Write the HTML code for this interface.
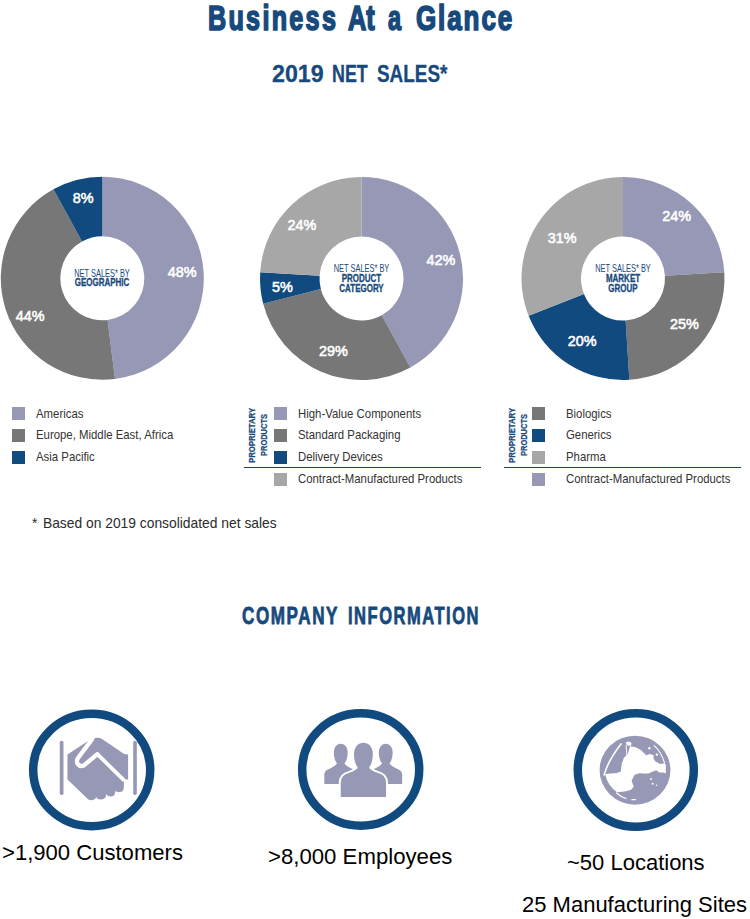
<!DOCTYPE html>
<html><head><meta charset="utf-8">
<style>
html,body{margin:0;padding:0;background:#fff;}
body{width:750px;height:919px;position:relative;overflow:hidden;font-family:"Liberation Sans",sans-serif;}
.a{position:absolute;white-space:nowrap;}
.h{color:#17497c;font-weight:bold;transform-origin:0 0;}
.lg{font-size:12.8px;color:#333;transform-origin:0 0;transform:scaleX(0.889);}
.sq{position:absolute;width:13px;height:13px;}
.big{font-size:22.8px;color:#000;transform-origin:0 0;transform:scaleX(0.965);}
</style></head><body>
<div class="a" style="left:207.51px;top:-0.40px;font-size:35.2px;line-height:35.2px;font-weight:bold;color:#17497c;-webkit-text-stroke:1.7px #17497c;letter-spacing:3.2px;transform-origin:0 0;transform:scaleX(0.7150);">Business</div><div class="a" style="left:347.81px;top:-0.40px;font-size:35.2px;line-height:35.2px;font-weight:bold;color:#17497c;-webkit-text-stroke:1.7px #17497c;letter-spacing:0px;transform-origin:0 0;transform:scaleX(0.7210);">At</div><div class="a" style="left:387.77px;top:-0.40px;font-size:35.2px;line-height:35.2px;font-weight:bold;color:#17497c;-webkit-text-stroke:1.7px #17497c;letter-spacing:0px;transform-origin:0 0;transform:scaleX(0.6670);">a</div><div class="a" style="left:416.13px;top:-0.40px;font-size:35.2px;line-height:35.2px;font-weight:bold;color:#17497c;-webkit-text-stroke:1.7px #17497c;letter-spacing:2.6px;transform-origin:0 0;transform:scaleX(0.7381);">Glance</div>
<div class="a" style="left:272.14px;top:61.75px;font-size:24.4px;line-height:24.4px;font-weight:bold;color:#17497c;-webkit-text-stroke:0.3px #17497c;letter-spacing:0px;transform-origin:0 0;transform:scaleX(0.9526);">2019</div><div class="a" style="left:332.11px;top:61.75px;font-size:24.4px;line-height:24.4px;font-weight:bold;color:#17497c;-webkit-text-stroke:0.3px #17497c;letter-spacing:0px;transform-origin:0 0;transform:scaleX(0.7332);">NET</div><div class="a" style="left:377.42px;top:61.75px;font-size:24.4px;line-height:24.4px;font-weight:bold;color:#17497c;-webkit-text-stroke:0.3px #17497c;letter-spacing:0px;transform-origin:0 0;transform:scaleX(0.7753);">SALES*</div>
<svg class="a" style="left:0;top:0" width="750" height="420" viewBox="0 0 750 420" font-family="Liberation Sans">
<path d="M102.30,176.80 A101.5,101.5 0 0 1 115.02,379.00 L107.56,319.97 A42,42 0 0 0 102.30,236.30 Z" fill="#9698b5"/>
<path d="M115.02,379.00 A101.5,101.5 0 0 1 53.40,189.35 L82.07,241.50 A42,42 0 0 0 107.56,319.97 Z" fill="#777777"/>
<path d="M53.40,189.35 A101.5,101.5 0 0 1 102.30,176.80 L102.30,236.30 A42,42 0 0 0 82.07,241.50 Z" fill="#114a7e"/>
<path d="M361.50,177.00 A101.5,101.5 0 0 1 410.40,367.45 L381.73,315.30 A42,42 0 0 0 361.50,236.50 Z" fill="#9698b5"/>
<path d="M410.40,367.45 A101.5,101.5 0 0 1 263.19,303.74 L320.82,288.94 A42,42 0 0 0 381.73,315.30 Z" fill="#777777"/>
<path d="M263.19,303.74 A101.5,101.5 0 0 1 260.20,272.13 L319.58,275.86 A42,42 0 0 0 320.82,288.94 Z" fill="#114a7e"/>
<path d="M260.20,272.13 A101.5,101.5 0 0 1 361.50,177.00 L361.50,236.50 A42,42 0 0 0 319.58,275.86 Z" fill="#a7a7a7"/>
<path d="M623.00,177.00 A101.5,101.5 0 0 1 724.30,272.13 L664.92,275.86 A42,42 0 0 0 623.00,236.50 Z" fill="#9698b5"/>
<path d="M724.30,272.13 A101.5,101.5 0 0 1 629.37,379.80 L625.64,320.42 A42,42 0 0 0 664.92,275.86 Z" fill="#777777"/>
<path d="M629.37,379.80 A101.5,101.5 0 0 1 528.63,315.86 L583.95,293.96 A42,42 0 0 0 625.64,320.42 Z" fill="#114a7e"/>
<path d="M528.63,315.86 A101.5,101.5 0 0 1 623.00,177.00 L623.00,236.50 A42,42 0 0 0 583.95,293.96 Z" fill="#a7a7a7"/>
<g fill="#fff" font-weight="normal" stroke="#fff" stroke-width="0.55">
<text x="167.7" y="276.5" font-size="14.4" text-anchor="start" >48%</text>
<text x="72.7" y="202.5" font-size="14.4" text-anchor="start" >8%</text>
<text x="15.7" y="320.5" font-size="14.4" text-anchor="start" >44%</text>
<text x="426.4" y="264.9" font-size="14.4" text-anchor="start" >42%</text>
<text x="287.4" y="229.8" font-size="14.4" text-anchor="start" >24%</text>
<text x="272" y="291.8" font-size="14.4" text-anchor="start" >5%</text>
<text x="319" y="356.3" font-size="14.4" text-anchor="start" >29%</text>
<text x="662.2" y="221.3" font-size="14.4" text-anchor="start" >24%</text>
<text x="547.8" y="242.8" font-size="14.4" text-anchor="start" >31%</text>
<text x="670" y="329.3" font-size="14.4" text-anchor="start" >25%</text>
<text x="567.8" y="346.2" font-size="14.4" text-anchor="start" >20%</text>
</g>
<g fill="#17497c">
<text x="102" y="276.6" font-size="10" text-anchor="middle" font-weight="normal" transform="translate(102,0) scale(0.745,1) translate(-102,0)">NET SALES* BY</text>
<text x="102" y="286.3" font-size="10" text-anchor="middle" font-weight="bold" stroke="#17497c" stroke-width="0.3" transform="translate(102,0) scale(0.8,1) translate(-102,0)">GEOGRAPHIC</text><text x="361.5" y="272.4" font-size="10" text-anchor="middle" font-weight="normal" transform="translate(361.5,0) scale(0.745,1) translate(-361.5,0)">NET SALES* BY</text>
<text x="361.5" y="282.1" font-size="10" text-anchor="middle" font-weight="bold" stroke="#17497c" stroke-width="0.3" transform="translate(361.5,0) scale(0.8,1) translate(-361.5,0)">PRODUCT</text>
<text x="361.5" y="291.8" font-size="10" text-anchor="middle" font-weight="bold" stroke="#17497c" stroke-width="0.3" transform="translate(361.5,0) scale(0.8,1) translate(-361.5,0)">CATEGORY</text><text x="623" y="272.1" font-size="10" text-anchor="middle" font-weight="normal" transform="translate(623,0) scale(0.745,1) translate(-623,0)">NET SALES* BY</text>
<text x="623" y="281.9" font-size="10" text-anchor="middle" font-weight="bold" stroke="#17497c" stroke-width="0.3" transform="translate(623,0) scale(0.8,1) translate(-623,0)">MARKET</text>
<text x="623" y="291.8" font-size="10" text-anchor="middle" font-weight="bold" stroke="#17497c" stroke-width="0.3" transform="translate(623,0) scale(0.8,1) translate(-623,0)">GROUP</text>
</g>
</svg>
<div class="sq" style="left:12px;top:407.3px;background:#9698b5"></div>
<div class="a lg" style="left:36.4px;top:406.0px;">Americas</div>
<div class="sq" style="left:12px;top:429px;background:#777777"></div>
<div class="a lg" style="left:36.4px;top:427.4px;">Europe, Middle East, Africa</div>
<div class="sq" style="left:12px;top:450.8px;background:#114a7e"></div>
<div class="a lg" style="left:36.4px;top:449.0px;">Asia Pacific</div>
<div class="sq" style="left:274px;top:407.3px;background:#9698b5"></div>
<div class="a lg" style="left:298.3px;top:406.0px;">High-Value Components</div>
<div class="sq" style="left:274px;top:429px;background:#777777"></div>
<div class="a lg" style="left:298.3px;top:427.4px;">Standard Packaging</div>
<div class="sq" style="left:274px;top:450.8px;background:#114a7e"></div>
<div class="a lg" style="left:298.3px;top:449.0px;">Delivery Devices</div>
<div class="sq" style="left:274px;top:472.5px;background:#a7a7a7"></div>
<div class="a lg" style="left:298.3px;top:470.7px;">Contract-Manufactured Products</div>
<div class="sq" style="left:532px;top:407.3px;background:#777777"></div>
<div class="a lg" style="left:565.7px;top:406.0px;">Biologics</div>
<div class="sq" style="left:532px;top:429px;background:#114a7e"></div>
<div class="a lg" style="left:565.7px;top:427.4px;">Generics</div>
<div class="sq" style="left:532px;top:450.8px;background:#a7a7a7"></div>
<div class="a lg" style="left:565.7px;top:449.0px;">Pharma</div>
<div class="sq" style="left:532px;top:472.5px;background:#9698b5"></div>
<div class="a lg" style="left:565.7px;top:470.7px;">Contract-Manufactured Products</div>
<div class="a" style="left:244px;top:466.6px;width:237px;height:1.5px;background:#1b4168"></div>
<div class="a" style="left:504px;top:466.6px;width:237px;height:1.5px;background:#1b4168"></div>
<div class="a" style="left:246.5px;top:463.2px;font-size:9.6px;font-weight:bold;color:#17497c;-webkit-text-stroke:0.25px #17497c;transform-origin:0 0;transform:rotate(-90deg) scaleX(0.807);line-height:10px;">PROPRIETARY</div>
<div class="a" style="left:258.6px;top:455.8px;font-size:9.6px;font-weight:bold;color:#17497c;-webkit-text-stroke:0.25px #17497c;transform-origin:0 0;transform:rotate(-90deg) scaleX(0.78);line-height:10px;">PRODUCTS</div>
<div class="a" style="left:506.5px;top:463.2px;font-size:9.6px;font-weight:bold;color:#17497c;-webkit-text-stroke:0.25px #17497c;transform-origin:0 0;transform:rotate(-90deg) scaleX(0.807);line-height:10px;">PROPRIETARY</div>
<div class="a" style="left:518.6px;top:455.8px;font-size:9.6px;font-weight:bold;color:#17497c;-webkit-text-stroke:0.25px #17497c;transform-origin:0 0;transform:rotate(-90deg) scaleX(0.78);line-height:10px;">PRODUCTS</div>
<div class="a" id="fn" style="left:32.3px;top:514.4px;font-size:15px;color:#2b2b2b;transform-origin:0 0;transform:scaleX(0.922);">*<span style="margin-left:6px;">Based on 2019 consolidated net sales</span></div>
<div class="a" style="left:242.28px;top:603.88px;font-size:24.0px;line-height:24.0px;font-weight:bold;color:#17497c;-webkit-text-stroke:0.8px #17497c;letter-spacing:2.2px;transform-origin:0 0;transform:scaleX(0.7120);">COMPANY</div><div class="a" style="left:347.88px;top:603.88px;font-size:24.0px;line-height:24.0px;font-weight:bold;color:#17497c;-webkit-text-stroke:0.8px #17497c;letter-spacing:2.2px;transform-origin:0 0;transform:scaleX(0.6883);">INFORMATION</div>
<svg class="a" style="left:0;top:690px" width="750" height="150" viewBox="0 690 750 150">
<g fill="none" stroke="#114a7e" stroke-width="8.5">
<ellipse cx="91.7" cy="770" rx="58.5" ry="56.2"/>
<ellipse cx="360.7" cy="769.5" rx="58.5" ry="56.2"/>
<ellipse cx="635.8" cy="770" rx="58" ry="56.7"/>
</g>
<g transform="translate(55,733) scale(0.11333)" fill="#9698b5">
<rect x="42" y="68" width="33" height="480" rx="16"/>
<rect x="690" y="68" width="32" height="480" rx="16"/>
<path d="M110,190 L285,75 L345,48 Q380,36 415,52 L610,185 L645,190 L645,410 L608,410 L608,470 Q610,521 570,521 Q545,521 531,514 Q532,560 492,560 Q465,560 453,540 Q447,586 402,586 Q375,586 363,566 Q352,593 318,593 Q300,593 292,585 L110,410 Z"/>
<path d="M326,56 L203,220 Q186,248 200,274 Q222,300 255,286 L373.5,187" fill="none" stroke="#fff" stroke-width="38" stroke-linejoin="round" stroke-linecap="round"/>
<path d="M373.5,187 L612,420" fill="none" stroke="#fff" stroke-width="33" stroke-linecap="butt"/>
</g>
<g transform="translate(320,738) scale(0.11333)" fill="#9698b5">
<path d="M122,128.8 C122,23.8 244,23.8 244,128.8 C244,186.5 220.8,225 213.5,225 L152.5,225 C145.2,225 122,186.5 122,128.8 Z"/><path d="M151,205 L151,225 Q131,250 93.1,267 Q38,285 38,320 L38,405 L328,405 L328,320 Q328,285 272.9,267 Q235,250 215,225 L215,205 Z"/>
<path d="M519,128.8 C519,23.8 641,23.8 641,128.8 C641,186.5 617.8,225 610.5,225 L549.5,225 C542.2,225 519,186.5 519,128.8 Z"/><path d="M548,205 L548,225 Q528,250 490.1,267 Q435,285 435,320 L435,405 L725,405 L725,320 Q725,285 669.9,267 Q632,250 612,225 L612,205 Z"/>
<g stroke="#fff" stroke-width="34" stroke-linejoin="round">
<path d="M333,245 L333,265 Q313,290 259.0,307 Q183,325 183,395 L183,520 L583,520 L583,395 Q583,325 507.0,307 Q453,290 433,265 L433,245 Z"/><path d="M300,143.2 C300,8.2 466,8.2 466,143.2 C466,217.5 434.5,267 424.5,267 L341.5,267 C331.5,267 300,217.5 300,143.2 Z"/>
</g>
<path d="M333,245 L333,265 Q313,290 259.0,307 Q183,325 183,395 L183,520 L583,520 L583,395 Q583,325 507.0,307 Q453,290 433,265 L433,245 Z"/><path d="M300,143.2 C300,8.2 466,8.2 466,143.2 C466,217.5 434.5,267 424.5,267 L341.5,267 C331.5,267 300,217.5 300,143.2 Z"/>
</g>
<g transform="translate(595,732) scale(0.106667)">
<ellipse cx="375" cy="358" rx="332" ry="323" fill="#9698b5"/>
<g fill="#fff">
<path d="M328,133 L381,143 L433,170 L480,217 L512,206 L549,217 L549,248 L564,275 L612,301 L643,296 L664,302 L664,388 L643,380 L601,380 L580,361 L559,364 L501,390 L433,390 L422,385 L371,400 L343,457 L364,514 L335,543 L278,557 L207,564 A275,275 0 0 1 96,400 L100,393 L207,385 L242,371 L250,300 L271,242 L307,207 L328,135 Z"/>
<path d="M287,98 L318,90 L343,104 L338,126 L318,130 L300,124 Z"/>
<circle cx="510" cy="152" r="11"/><circle cx="580" cy="212" r="11"/>
<circle cx="525" cy="440" r="9"/><circle cx="540" cy="485" r="9"/><circle cx="578" cy="500" r="7"/>
<rect x="340" y="628" width="45" height="12" rx="6"/>
</g>
<g fill="none" stroke="#fff" stroke-linecap="round">
<path d="M244,112 Q120,272 86,402" stroke-width="15"/>
<path d="M292,125 L298,212" stroke-width="9"/>
<path d="M554,128 Q618,178 652,292" stroke-width="11"/>
<path d="M202,572 Q238,606 290,623" stroke-width="11"/>
</g>
</g>
</svg>

<div class="a big" style="left:1.5px;top:838.65px;transform:scaleX(0.968);">&gt;1,900 Customers</div>
<div class="a big" style="left:268px;top:843.45px;transform:scaleX(0.973);">&gt;8,000 Employees</div>
<div class="a big" style="left:567px;top:848.5px;">~50 Locations</div>
<div class="a big" style="left:522px;top:890.85px;">25 Manufacturing Sites</div>
</body></html>
